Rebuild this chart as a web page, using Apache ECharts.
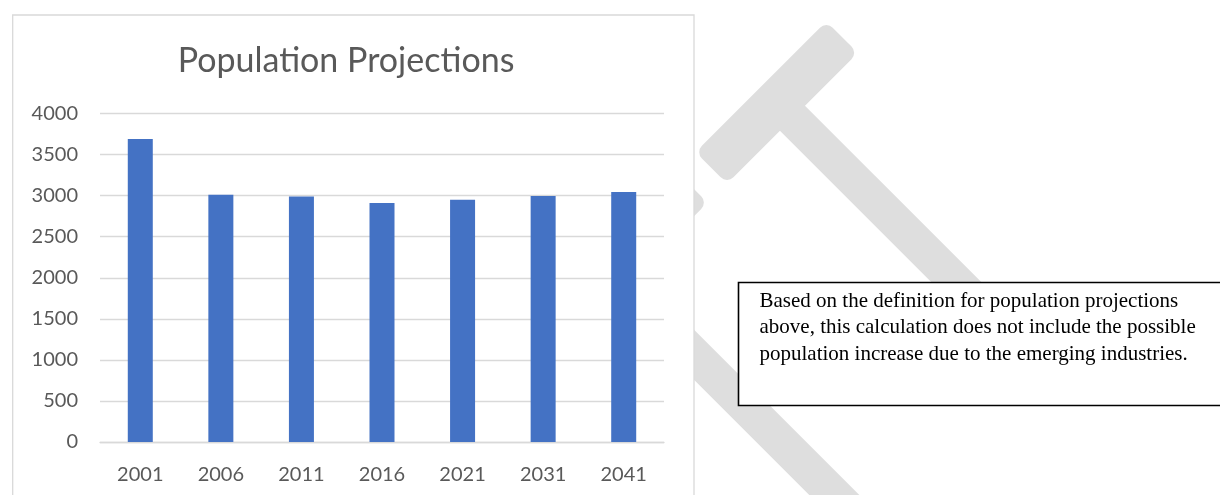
<!DOCTYPE html>
<html>
<head>
<meta charset="utf-8">
<title>Population Projections</title>
<script src="https://cdn.jsdelivr.net/npm/echarts@6/dist/echarts.min.js"></script>
<style>
  html, body { margin: 0; padding: 0; background: #ffffff; }
  #chart { width: 1220px; height: 495px; }
</style>
</head>
<body>
<div id="chart"></div>
<script>
// Census / projection years shown on the category axis
const years = ['2001', '2006', '2011', '2016', '2021', '2031', '2041'];
// Population for each year
const population = [3690, 3012, 2988, 2910, 2950, 2995, 3045];
// Value-axis ticks
const yMin = 0;
const yMax = 4000;
const yStep = 500;

const titleText = 'Population Projections';
const noteLines = [
  'Based on the definition for population projections',
  'above, this calculation does not include the possible',
  'population increase due to the emerging industries.'
];

const chart = echarts.init(document.getElementById('chart'), null, { renderer: 'canvas' });

const GRAY_MARK = '#dedede';
const D = Math.PI / 4;

// Background gavel shapes, the white chart panel and the note box
const graphics = [
  // upper gavel: head
  { type: 'rect', z: -20, x: 776.7, y: 102.5, rotation: D,
    shape: { x: -92.5, y: -22.3, width: 185, height: 44.6, r: 9 },
    style: { fill: GRAY_MARK } },
  // upper gavel: handle
  { type: 'rect', z: -21, x: 776.7, y: 102.5, rotation: -D,
    shape: { x: 0, y: -17.7, width: 390, height: 35.4 },
    style: { fill: GRAY_MARK } },
  // lower gavel: head (mostly behind the panel)
  { type: 'rect', z: -20, x: 626.4, y: 252.2, rotation: D,
    shape: { x: -92.5, y: -22.3, width: 185, height: 44.6, r: 9 },
    style: { fill: GRAY_MARK } },
  // lower gavel: handle
  { type: 'rect', z: -21, x: 600, y: 260.7, rotation: -D,
    shape: { x: 0, y: -17.7, width: 420, height: 35.4 },
    style: { fill: GRAY_MARK } },
  // chart panel
  { type: 'rect', z: -10, silent: true,
    shape: { x: 12.7, y: 15, width: 681.3, height: 520 },
    style: { fill: '#ffffff', stroke: '#d9d9d9', lineWidth: 1.3 } },
  // note box
  { type: 'rect', z: -10, silent: true,
    shape: { x: 738.5, y: 282.5, width: 520, height: 123 },
    style: { fill: '#ffffff', stroke: '#000000', lineWidth: 1.6 } },
  { type: 'text', z: 10, x: 759.5, y: 288,
    style: {
      text: noteLines.join('\n'),
      font: '21px "Liberation Serif", "Times New Roman", serif',
      fill: '#000000',
      lineHeight: 26.5,
      verticalAlign: 'top'
    } }
];

chart.setOption({
  backgroundColor: '#ffffff',
  animation: false,
  title: {
    text: titleText,
    left: 341,
    top: 39.5,
    textAlign: 'center',
    textStyle: {
      fontFamily: 'Lato',
      fontWeight: 'normal',
      fontSize: 34,
      color: '#595959'
    }
  },
  grid: { left: 100, right: 556, top: 113.5, bottom: 53, containLabel: false },
  xAxis: {
    type: 'category',
    data: years,
    boundaryGap: true,
    axisLine: { show: true, lineStyle: { color: '#d9d9d9', width: 1.3 } },
    axisTick: { show: false },
    axisLabel: {
      margin: 23,
      color: '#595959',
      fontFamily: 'Lato',
      fontSize: 20
    }
  },
  yAxis: {
    type: 'value',
    min: yMin,
    max: yMax,
    interval: yStep,
    axisLine: { show: false },
    axisTick: { show: false },
    splitLine: { lineStyle: { color: '#d9d9d9', width: 1.3 } },
    axisLabel: {
      margin: 22,
      color: '#595959',
      fontFamily: 'Lato',
      fontSize: 20,
      formatter: (v) => String(v)
    }
  },
  series: [{
    type: 'bar',
    data: population,
    barWidth: 25,
    itemStyle: { color: '#4472c4' }
  }],
  graphic: graphics
});
</script>
</body>
</html>
